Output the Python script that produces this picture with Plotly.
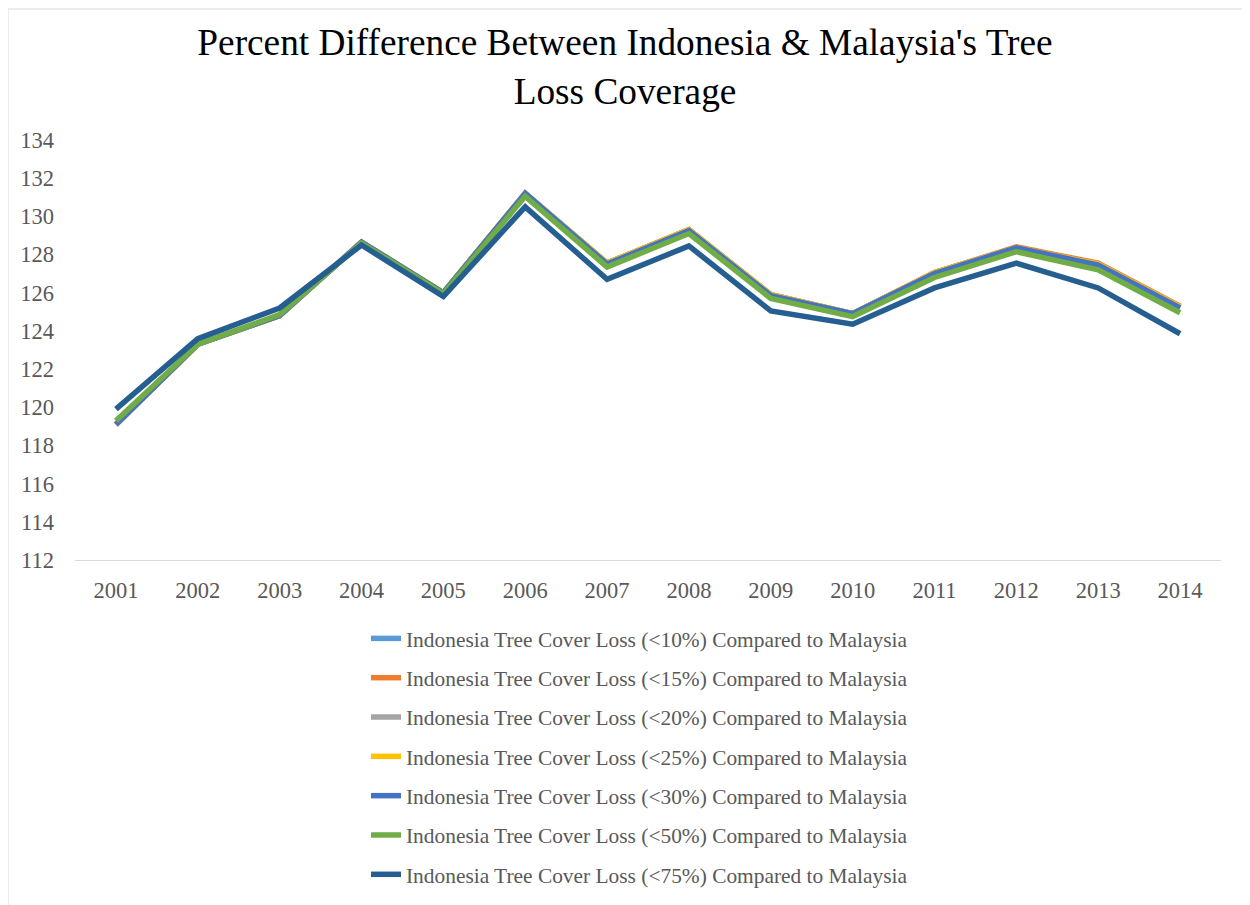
import plotly.graph_objects as go

years = ["2001", "2002", "2003", "2004", "2005", "2006", "2007",
         "2008", "2009", "2010", "2011", "2012", "2013", "2014"]

loss_10 = [119.1, 123.3, 124.8, 128.65, 126.0, 131.2, 127.55, 129.3, 125.9, 124.9, 127.05, 128.35, 127.5, 125.25]
loss_15 = [119.1, 123.3, 124.8, 128.65, 126.0, 131.2, 127.55, 129.3, 125.9, 124.9, 127.05, 128.4, 127.55, 125.3]
loss_20 = [119.1, 123.3, 124.8, 128.65, 126.0, 131.2, 127.55, 129.3, 125.9, 124.9, 127.05, 128.35, 127.5, 125.25]
loss_25 = [119.1, 123.3, 124.8, 128.65, 126.0, 131.2, 127.55, 129.3, 125.9, 124.9, 127.05, 128.35, 127.5, 125.25]
loss_30 = [119.1, 123.3, 124.8, 128.65, 126.0, 131.2, 127.5, 129.25, 125.85, 124.9, 127.0, 128.35, 127.45, 125.2]
loss_50 = [119.3, 123.3, 124.85, 128.6, 125.95, 131.05, 127.35, 129.1, 125.7, 124.75, 126.8, 128.15, 127.2, 124.95]
loss_75 = [119.9, 123.6, 125.2, 128.5, 125.8, 130.5, 126.7, 128.45, 125.05, 124.35, 126.25, 127.55, 126.25, 123.85]

series_names = [
    "Indonesia Tree Cover Loss (<10%) Compared to Malaysia",
    "Indonesia Tree Cover Loss (<15%) Compared to Malaysia",
    "Indonesia Tree Cover Loss (<20%) Compared to Malaysia",
    "Indonesia Tree Cover Loss (<25%) Compared to Malaysia",
    "Indonesia Tree Cover Loss (<30%) Compared to Malaysia",
    "Indonesia Tree Cover Loss (<50%) Compared to Malaysia",
    "Indonesia Tree Cover Loss (<75%) Compared to Malaysia",
]
series_values = [loss_10, loss_15, loss_20, loss_25, loss_30, loss_50, loss_75]
colors = ["#5B9BD5", "#ED7D31", "#A5A5A5", "#FFC000", "#4472C4", "#70AD47", "#255E91"]

FONT = "Liberation Serif, Times New Roman, serif"

fig = go.Figure()
for i, (name, vals, col) in enumerate(zip(series_names, series_values, colors)):
    fig.add_trace(go.Scatter(
        x=years, y=vals, name=name, mode="lines",
        line=dict(color=col, width=5.5),
        legendgroup=f"g{i}",
    ))

fig.update_layout(
    width=1250, height=905,
    paper_bgcolor="white", plot_bgcolor="white",
    margin=dict(l=67, r=37, t=132, b=353, autoexpand=False),
    title=dict(
        text="Percent Difference Between Indonesia & Malaysia's Tree<br>Loss Coverage",
        x=0.4936, xanchor="center", xref="container",
        y=0.948, yanchor="top", yref="container",
        font=dict(family=FONT, size=37.3, color="#000000"),
    ),
    font=dict(family=FONT, size=21.3, color="#595959"),
    showlegend=True,
    legend=dict(
        orientation="v",
        xref="container", yref="container",
        x=0.5052, xanchor="center",
        y=0.326, yanchor="top",
        font=dict(family=FONT, size=21.4, color="#595959"),
        tracegroupgap=8.5,
        bgcolor="rgba(0,0,0,0)",
    ),
    xaxis=dict(
        type="category",
        showgrid=False, zeroline=False,
        showline=True, linecolor="#D9D9D9", linewidth=1,
        ticks="", ticklabelstandoff=10, tickangle=0,
        tickfont=dict(family=FONT, size=22.5, color="#595959"),
        range=[-0.5, 13.5],
    ),
    yaxis=dict(
        range=[112, 134], dtick=2, tick0=112,
        showgrid=False, zeroline=False, showline=False,
        ticks="", ticklabelstandoff=20,
        tickfont=dict(family=FONT, size=22.5, color="#595959"),
    ),
    shapes=[dict(
        type="rect", xref="paper", yref="paper",
        x0=-67 / 1146, x1=1 + 36 / 1146, y0=-352 / 420, y1=1 + 131 / 420,
        line=dict(color="#D9D9D9", width=1), fillcolor="rgba(0,0,0,0)", layer="below",
    )],
)

fig.write_html("out.html")
